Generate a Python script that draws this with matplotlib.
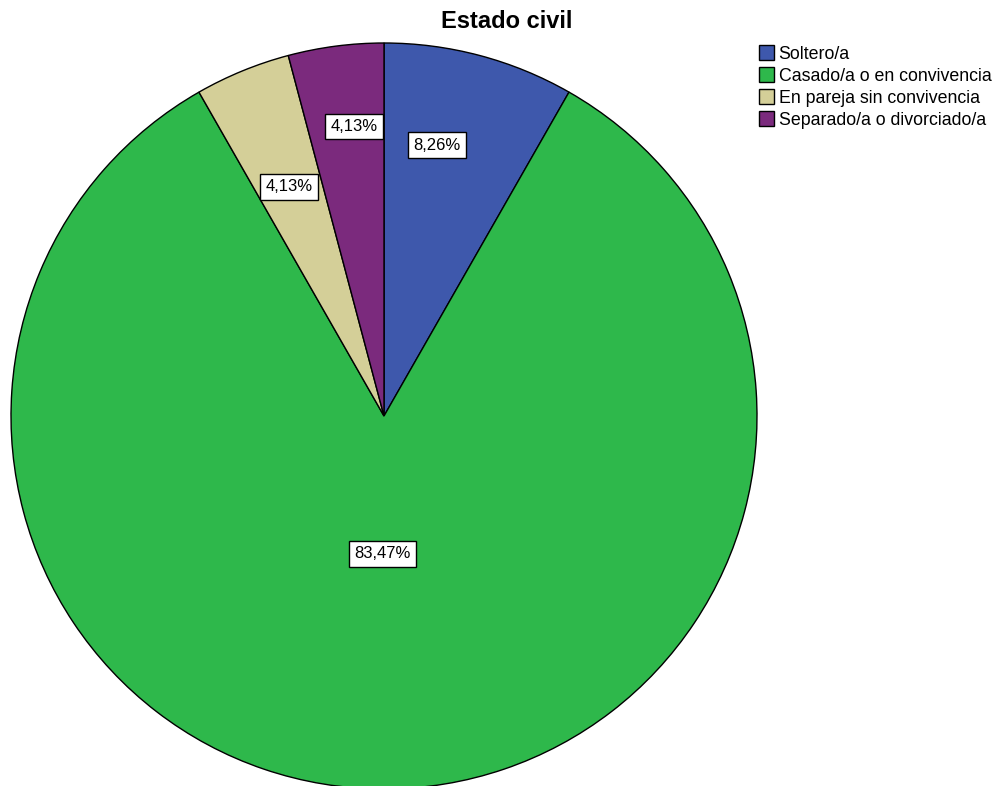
import numpy as np
import matplotlib
matplotlib.use("Agg")
import matplotlib.pyplot as plt

plt.rcParams['font.family'] = ['Liberation Sans', 'DejaVu Sans']

categories = ["Soltero/a", "Casado/a o en convivencia",
              "En pareja sin convivencia", "Separado/a o divorciado/a"]
percentages = [8.26, 83.47, 4.13, 4.13]
colors = ["#3e58ac", "#2eb84b", "#d4cf98", "#7b2a7d"]

# label placement (radius fraction, angle shift in degrees) per slice
label_radius = [0.74, 0.37, 0.665, 0.78]
label_shift = [3.8, -0.8, 0.2, -1.5]

fig = plt.figure(figsize=(9.96, 7.86), dpi=100)
ax = fig.add_axes([11 / 996, -3 / 786, 746 / 996, 746 / 786])

wedges, _ = ax.pie(
    percentages,
    colors=colors,
    startangle=90,
    counterclock=False,
    radius=1,
    wedgeprops=dict(edgecolor="black", linewidth=1),
)
ax.set_xlim(-1, 1)
ax.set_ylim(-1, 1)
ax.set_aspect("equal")
ax.axis("off")

frac = np.array(percentages) / sum(percentages)
mids = 90 - 360 * (np.cumsum(frac) - frac / 2)
for m, p, r, s in zip(mids, percentages, label_radius, label_shift):
    ang = np.deg2rad(m + s)
    ax.text(r * np.cos(ang), r * np.sin(ang),
            f"{p:.2f}%".replace(".", ","),
            ha="center", va="center", fontsize=12,
            bbox=dict(boxstyle="square,pad=0.32", facecolor="white",
                      edgecolor="black", linewidth=1))

fig.text(507 / 996, 1 - 21 / 786, "Estado civil", ha="center", va="center",
         fontsize=17, fontweight="bold")

fig.legend(wedges, categories, loc="upper left",
           bbox_to_anchor=(759 / 996, 1 - 45 / 786),
           frameon=False, fontsize=12.8, handlelength=0.85, handleheight=0.9,
           handletextpad=0.25, labelspacing=0.26, borderpad=0, borderaxespad=0)

fig.savefig("out.png", dpi=100)
